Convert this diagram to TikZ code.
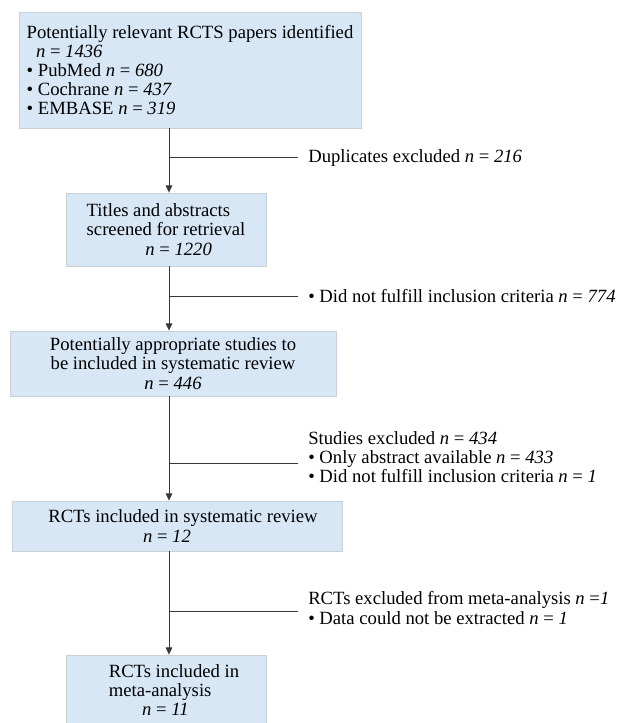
\documentclass[tikz,border=0pt]{standalone}
\usepackage{fontspec}
\setmainfont{Liberation Serif}
\usetikzlibrary{arrows.meta}
\definecolor{boxfill}{HTML}{D7E7F5}
\definecolor{boxline}{HTML}{C9D0D6}
\definecolor{flowline}{HTML}{383838}
\newcommand{\nn}[1]{\textit{n} = \textit{#1}}
\begin{document}
\begin{tikzpicture}[
    x=0.75pt, y=-0.75pt,
    every node/.style={font=\fontsize{14}{14.4}\selectfont},
    stage/.style={rectangle, draw=boxline, fill=boxfill, line width=0.6pt, inner sep=0pt},
    excl/.style={anchor=west, align=left, inner xsep=7.5pt, inner ysep=0pt},
    flow/.style={-{Triangle[length=5.5pt,width=5pt]}, draw=flowline, line width=0.75pt},
    branch/.style={draw=flowline, line width=0.75pt}
]
    \useasboundingbox (0,0) rectangle (639,723);
    % Boxes
    \node[stage, align=left, minimum width=256.5pt, minimum height=87pt] (ident) at (190,70)
        {Potentially relevant RCTS papers identified\\
         \hspace*{0.5em}\nn{1436}\\
         \textbullet{} PubMed \nn{680}\\
         \textbullet{} Cochrane \nn{437}\\
         \textbullet{} EMBASE \nn{319}};
    \node[stage, align=left, minimum width=150pt, minimum height=54.75pt] (screen) at (166,229.5)
        {Titles and abstracts\\
         screened for retrieval\\
         \hspace*{44pt}\nn{1220}};
    \node[stage, align=center, minimum width=244.5pt, minimum height=48.75pt] (approp) at (173,363.5)
        {Potentially appropriate studies to\\
         be included in systematic review\\
         \nn{446}};
    \node[stage, align=left, minimum width=247.5pt, minimum height=37.5pt] (sysrev) at (177,526)
        {\hspace*{9pt}RCTs included in systematic review\\
         \hspace*{80pt}\nn{12}};
    \node[stage, align=left, minimum width=150pt, minimum height=52.5pt] (meta) at (166,690)
        {\hspace*{12pt}RCTs included in\\
         \hspace*{12pt}meta-analysis\\
         \hspace*{37pt}\nn{11}};

    % Exclusions
    \node[excl] (dupl) at (298,158) {Duplicates excluded \nn{216}};
    \node[excl] (crit) at (298,296) {\textbullet{} Did not fulfill inclusion criteria \nn{774}};
    \node[excl] (stud) at (298,457)
        {Studies excluded \nn{434}\\
         \textbullet{} Only abstract available \nn{433}\\
         \textbullet{} Did not fulfill inclusion criteria \nn{1}};
    \node[excl] (data) at (298,608)
        {RCTs excluded from meta-analysis \textit{n} =\textit{1}\\
         \textbullet{} Data could not be extracted \nn{1}};

    % Spine and junctions
    \coordinate (spine) at (169,0);
    \coordinate (j1) at (169,158);
    \coordinate (j2) at (169,296);
    \coordinate (j3) at (169,463);
    \coordinate (j4) at (169,611);

    % Arrows
    \draw[flow] (ident.south -| spine) -- (screen.north -| spine);
    \draw[flow] (screen.south -| spine) -- (approp.north -| spine);
    \draw[flow] (approp.south -| spine) -- (sysrev.north -| spine);
    \draw[flow] (sysrev.south -| spine) -- (meta.north -| spine);
    \draw[branch] (j1) -- (dupl.west);
    \draw[branch] (j2) -- (crit.west);
    \draw[branch] (j3) -- (j3 -| stud.west);
    \draw[branch] (j4) -- (j4 -| data.west);
\end{tikzpicture}
\end{document}
